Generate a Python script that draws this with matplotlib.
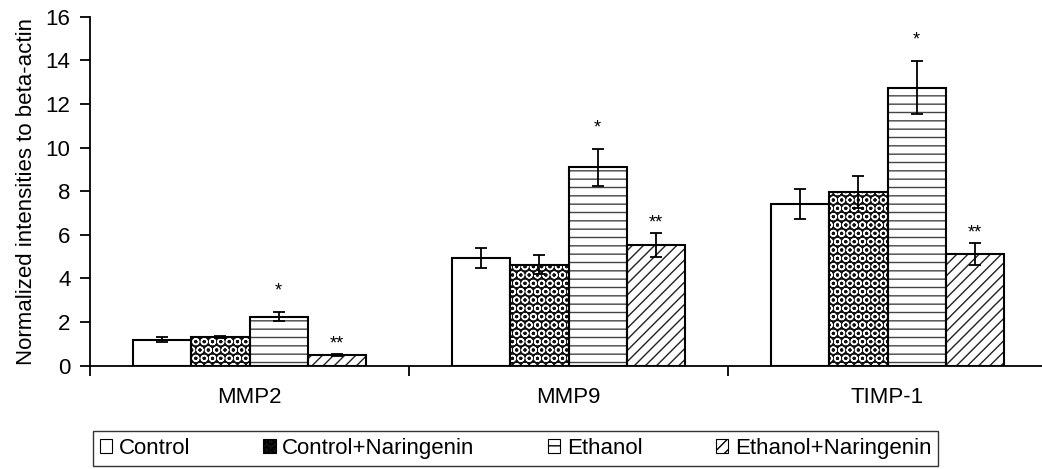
import matplotlib.pyplot as plt
from matplotlib.patches import Patch

plt.rcParams['font.family'] = ['Liberation Sans', 'DejaVu Sans']
plt.rcParams['hatch.linewidth'] = 1.0

# Dữ liệu
categories = ['MMP2', 'MMP9', 'TIMP-1']
groups = ['Control', 'Control+Naringenin', 'Ethanol', 'Ethanol+Naringenin']
control = [1.2, 4.95, 7.4]
control_nar = [1.3, 4.63, 7.98]
ethanol = [2.25, 9.1, 12.75]
ethanol_nar = [0.5, 5.54, 5.12]
control_err = [0.1, 0.45, 0.68]
control_nar_err = [0.05, 0.43, 0.73]
ethanol_err = [0.2, 0.85, 1.2]
ethanol_nar_err = [0.05, 0.54, 0.49]
ethanol_sig = ['*', '*', '*']
ethanol_nar_sig = ['**', '**', '**']

values = [control, control_nar, ethanol, ethanol_nar]
errors = [control_err, control_nar_err, ethanol_err, ethanol_nar_err]
signif = [None, None, ethanol_sig, ethanol_nar_sig]

# Kiểu tô cho từng nhóm: (màu nền, màu hatch, hatch)
styles = [('white', 'black', ''),
          ('#111111', 'white', 'OO'),
          ('white', '#444444', '--'),
          ('white', '#222222', '///')]

fig = plt.figure(figsize=(10.42, 4.69), dpi=100)
ax = fig.add_axes([0.0864, 0.2203, 0.9184, 0.7441])

w = 0.183
x = range(len(categories))
for i, (vals, errs) in enumerate(zip(values, errors)):
    fc, hc, hatch = styles[i]
    pos = [xi + (i - 1.5) * w for xi in x]
    ax.bar(pos, vals, w, color=fc, edgecolor=hc, hatch=hatch, linewidth=0, zorder=2)
    ax.bar(pos, vals, w, fill=False, edgecolor='black', linewidth=1.5, zorder=3)
    ax.errorbar(pos, vals, yerr=errs, fmt='none', ecolor='black',
                elinewidth=1.3, capsize=4.5, capthick=1.3, zorder=4)
    if signif[i]:
        for p, v, e, s in zip(pos, vals, errs, signif[i]):
            off = 12 if s == '*' else 4
            ax.annotate(s, (p, v + e), xytext=(0, off), textcoords='offset points',
                        ha='center', va='baseline', fontsize=13)

ax.set_xlim(-0.5, 2.5)
ax.set_ylim(0, 16)
ax.set_yticks(range(0, 17, 2))
ax.set_xticks([-0.5, 0.5, 1.5, 2.5])
ax.set_xticklabels([])
ax.set_xticks(list(x), minor=True)
ax.set_xticklabels(categories, minor=True)
ax.tick_params(axis='x', which='major', direction='out', length=7, width=1.3)
ax.tick_params(axis='x', which='minor', length=0, pad=15, labelsize=16)
ax.tick_params(axis='y', direction='out', length=7, width=1.3, labelsize=16, pad=7)
ax.spines['top'].set_visible(False)
ax.spines['right'].set_visible(False)
ax.spines['left'].set_linewidth(1.3)
ax.spines['bottom'].set_linewidth(1.3)
ax.set_ylabel('Normalized intensities to beta-actin', fontsize=16, labelpad=6)

handles = [Patch(facecolor=s[0], edgecolor='black', hatch=s[2], linewidth=0.8) for s in styles]
leg = fig.legend(handles, groups, loc='center', bbox_to_anchor=(0.4947, 0.0437), ncol=4,
                 fontsize=16, frameon=True, fancybox=False, edgecolor='black',
                 handlelength=0.55, handleheight=0.55, handletextpad=0.3,
                 columnspacing=3.3, borderpad=0.3)
leg.get_frame().set_linewidth(1.0)

fig.savefig('out.png', dpi=100)
